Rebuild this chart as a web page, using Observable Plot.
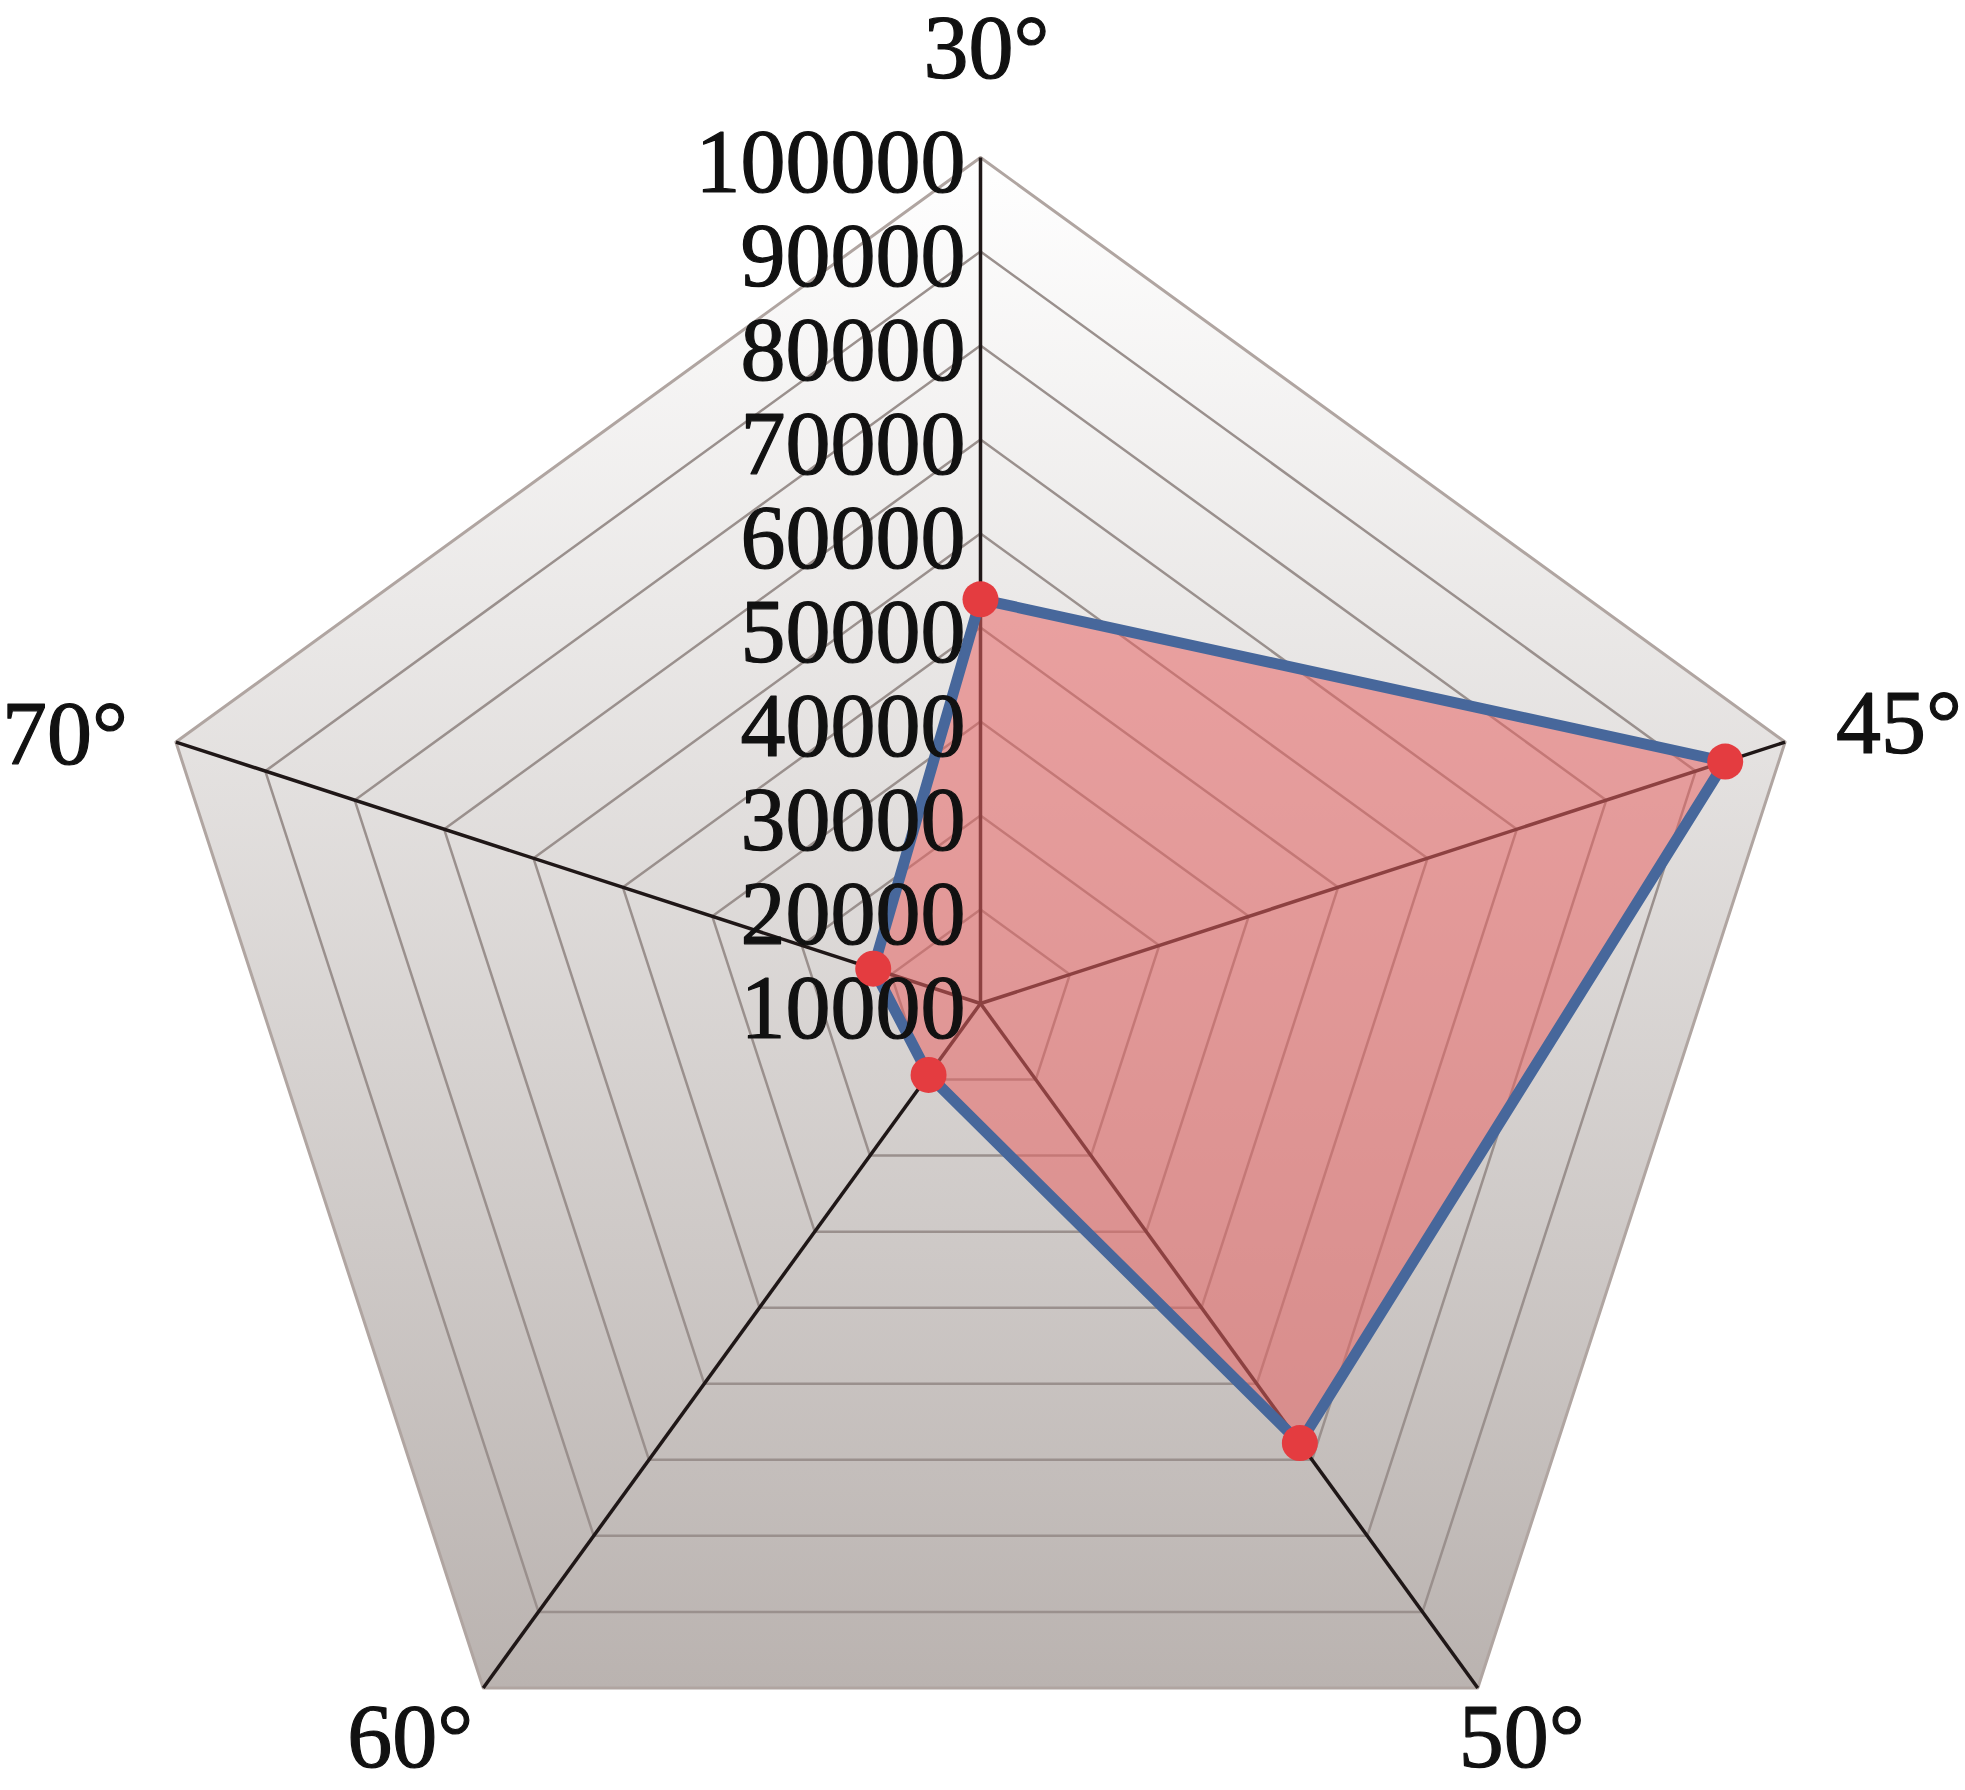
<!DOCTYPE html>
<html>
<head>
<meta charset="utf-8">
<script src="https://cdn.jsdelivr.net/npm/d3@7"></script>
<script src="https://cdn.jsdelivr.net/npm/@observablehq/plot@0.6"></script>
<style>
  html, body { margin: 0; padding: 0; background: #ffffff; }
  #chart svg { display: block; }
</style>
</head>
<body>
<div id="chart"></div>
<script>
// ---- data ----
const categories = ["30°", "45°", "50°", "60°", "70°"];
const values = [53000, 93300, 67800, 19400, 22000];
const tickValues = [10000, 20000, 30000, 40000, 50000, 60000, 70000, 80000, 90000, 100000];
const radialMin = 10000;
const radialMax = 100000;

// ---- layout (pixels) ----
const W = 1965, H = 1790;
const CX = 980, CY = 1003, R = 846;           // centre and outer radius in px
const labelOffsets = [                         // per-category label offsets (px) from vertex
  {dx: 6, dy: -108, anchor: "middle"},
  {dx: 51, dy: -18, anchor: "start"},
  {dx: 44, dy: 50, anchor: "middle"},
  {dx: -73, dy: 50, anchor: "middle"},
  {dx: -48, dy: -7, anchor: "end"}
];
const FONT = "'Liberation Serif', 'Times New Roman', 'DejaVu Serif', serif";

const rScale = d3.scaleLinear().domain([radialMin, radialMax]).range([0, 1]);
const n = categories.length;
const ang = i => i * 2 * Math.PI / n;
const ux = (i, v) => rScale(v) * Math.sin(ang(i));
const uy = (i, v) => rScale(v) * Math.cos(ang(i));

const series = categories.map((c, i) => ({cat: c, i, value: values[i]}));
const rings = tickValues.filter(t => t > radialMin && t < radialMax)
  .flatMap(t => categories.map((c, i) => ({ring: t, i})));
const outer = categories.map((c, i) => ({i, ring: radialMax}));
const labels = categories.map((c, i) => ({cat: c, i}));

const chart = Plot.plot({
  width: W,
  height: H,
  margin: 0,
  x: {domain: [-CX / R, (W - CX) / R], axis: null},
  y: {domain: [-(H - CY) / R, CY / R], axis: null},
  style: {background: "#ffffff", fontFamily: FONT, overflow: "visible"},
  marks: [
    // plot-area background (vertical gradient)
    Plot.line(outer, {x: d => ux(d.i, d.ring), y: d => uy(d.i, d.ring), curve: "linear-closed",
      fill: "url(#bgGrad)", stroke: "none"}),
    // inner rings
    Plot.line(rings, {x: d => ux(d.i, d.ring), y: d => uy(d.i, d.ring), z: "ring", curve: "linear-closed",
      fill: "none", stroke: "#9a908d", strokeWidth: 2.5}),
    // outer ring
    Plot.line(outer, {x: d => ux(d.i, d.ring), y: d => uy(d.i, d.ring), curve: "linear-closed",
      fill: "none", stroke: "#b0a5a1", strokeWidth: 3}),
    // spokes
    Plot.link(categories, {x1: () => 0, y1: () => 0,
      x2: (c, i) => ux(i, radialMax), y2: (c, i) => uy(i, radialMax),
      stroke: "#1f1717", strokeWidth: 3.5}),
    // series fill
    Plot.line(series, {x: d => ux(d.i, d.value), y: d => uy(d.i, d.value), curve: "linear-closed",
      fill: "#e86464", fillOpacity: 0.55, stroke: "none"}),
    // series outline
    Plot.line(series, {x: d => ux(d.i, d.value), y: d => uy(d.i, d.value), curve: "linear-closed",
      fill: "none", stroke: "#47679b", strokeWidth: 11, strokeLinejoin: "round"}),
    // radial tick labels
    Plot.text(tickValues, {x: () => 0, y: d => rScale(d), text: d => String(d),
      textAnchor: "end", dx: -15, dy: 6, fontSize: 90, fill: "#111111",
      stroke: "#111111", strokeWidth: 1.2, fontFamily: FONT}),
    // category labels
    ...labels.map(d => Plot.text([d], {
      x: () => ux(d.i, radialMax) + labelOffsets[d.i].dx / R,
      y: () => uy(d.i, radialMax) - labelOffsets[d.i].dy / R,
      text: () => d.cat, textAnchor: labelOffsets[d.i].anchor,
      fontSize: 90, fill: "#111111", stroke: "#111111", strokeWidth: 1.2, fontFamily: FONT})),
    // points
    Plot.dot(series, {x: d => ux(d.i, d.value), y: d => uy(d.i, d.value), r: 18,
      fill: "#e43c40", stroke: "none"})
  ]
});

const svg = d3.select(chart);
const grad = svg.insert("defs", ":first-child").append("linearGradient")
  .attr("id", "bgGrad").attr("x1", 0).attr("y1", 0).attr("x2", 0).attr("y2", 1);
grad.append("stop").attr("offset", "0%").attr("stop-color", "#ffffff");
grad.append("stop").attr("offset", "100%").attr("stop-color", "#bab3b0");

document.getElementById("chart").appendChild(chart);
</script>
</body>
</html>
